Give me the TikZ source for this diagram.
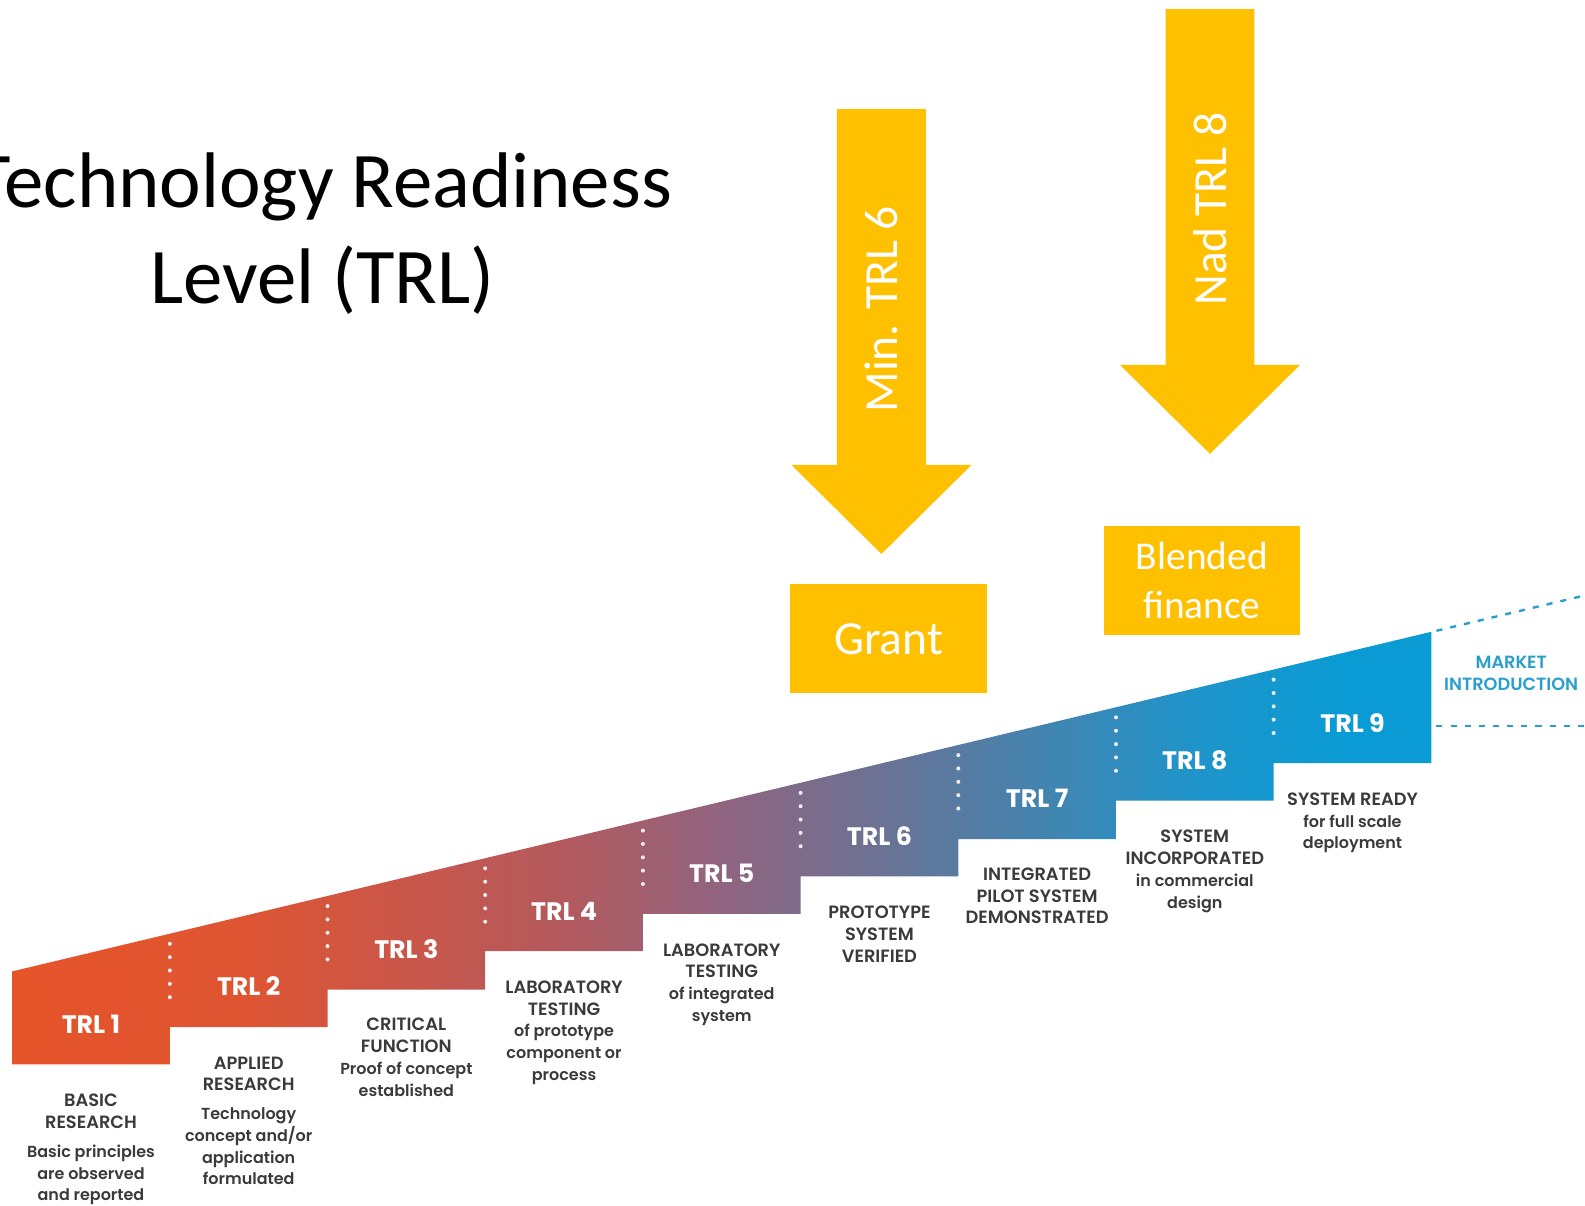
\documentclass[tikz,border=0pt]{standalone}
\usepackage{fontspec}
\setmainfont{Carlito}
\newfontfamily\stepfont{Poppins}
\newfontfamily\descfont{Poppins}[UprightFont=* SemiBold, BoldFont=* SemiBold]
\usetikzlibrary{positioning}
\definecolor{trlgold}{HTML}{FFC000}
\definecolor{trlgray}{HTML}{3A3A3A}
\definecolor{trlcyan}{HTML}{2A9FCB}
\definecolor{stepA}{HTML}{E6542A}
\definecolor{stepB}{HTML}{DF5532}
\definecolor{stepC}{HTML}{C9564A}
\definecolor{stepD}{HTML}{B35A5E}
\definecolor{stepE}{HTML}{906480}
\definecolor{stepF}{HTML}{6C7294}
\definecolor{stepG}{HTML}{4583AE}
\definecolor{stepH}{HTML}{1E94CA}
\definecolor{stepI}{HTML}{0A9BD4}
\pgfdeclarehorizontalshading{trlramp}{100bp}{color(0bp)=(stepA); color(25bp)=(stepA); color(33bp)=(stepB); color(39bp)=(stepC); color(44.5bp)=(stepD); color(50bp)=(stepE); color(55.5bp)=(stepF); color(61bp)=(stepG); color(66.7bp)=(stepH); color(72bp)=(stepI); color(100bp)=(stepI)}
\newcommand{\lc}[1]{{\fontsize{7.9}{10.75}\selectfont #1}}
\tikzstyle{titletext} = [anchor=base, inner sep=0pt, font=\fontsize{39}{47}\selectfont]
\tikzstyle{fundbox} = [rectangle, fill=trlgold, text=white, minimum width=97pt, minimum height=54pt, inner sep=0pt, align=center, font=\fontsize{23.5}{24}\selectfont]
\tikzstyle{arrowtext} = [text=white, rotate=90, inner sep=0pt, font=\fontsize{23.5}{24}\selectfont]
\tikzstyle{steplabel} = [text=white, inner sep=0pt, font=\stepfont\bfseries\fontsize{12.5}{14}\selectfont]
\tikzstyle{stepdesc} = [text=trlgray, align=center, anchor=north, inner sep=0pt, font=\descfont\fontsize{8.8}{10.75}\selectfont]
\tikzstyle{sepdots} = [white!85!gray, line width=2pt, line cap=round, dash pattern=on 0pt off 6.6pt]
\tikzstyle{marketline} = [trlcyan, line width=1.2pt, dash pattern=on 3pt off 4pt]

\begin{document}
\begin{tikzpicture}[x=0.5pt, y=-0.5pt]
\useasboundingbox (0,0) rectangle (1568,1193);

% title
\node (title1) [titletext] at (319,205) {Technology Readiness};
\node (title2) [titletext] at (319,300) {Level (TRL)};

% block arrows
\foreach \ax/\ay/\lbl/\txt in {872/108/minarrow/{Min. TRL 6}, 1197/9/nadarrow/{Nad TRL 8}} {
  \fill[trlgold] (\ax-44,\ay) -- (\ax+44,\ay) -- (\ax+44,\ay+352) -- (\ax+89,\ay+352)
    -- (\ax,\ay+440) -- (\ax-89,\ay+352) -- (\ax-44,\ay+352) -- cycle;
  \node (\lbl) [arrowtext] at (\ax,\ay+198) {\txt};
}

\node (grant)   [fundbox] at (879,632) {Grant};
\node (blended) [fundbox, font=\fontsize{19.5}{24}\selectfont] at (1189,574) {Blended\\finance};

% staircase
\shade[shading=trlramp, shading angle=0] (12,961) -- (1416,625) -- (1416,755) -- (1260,755)
  -- (1260,792) -- (1104,792) -- (1104,830) -- (948,830) -- (948,867) -- (792,867)
  -- (792,904) -- (636,904) -- (636,941) -- (480,941) -- (480,979) -- (324,979)
  -- (324,1016) -- (168,1016) -- (168,1053) -- (12,1053) -- cycle;

\foreach \i in {2,...,9} {
  \draw[sepdots] (12+156*\i-156, 971-37.33*\i+37.33) -- ++(0,56);
}
\foreach \i in {1,...,9} {
  \node (trl\i) [steplabel] at (90+156*\i-156, 1013-37.25*\i+37.25) {TRL \i};
}

% descriptions
\node (desc1) [stepdesc] at (90,1082)   {BASIC\\RESEARCH\\[3.5pt]\lc{Basic principles}\\\lc{are observed}\\\lc{and reported}};
\node (desc2) [stepdesc] at (246,1045)  {APPLIED\\RESEARCH\\[3.5pt]\lc{Technology}\\\lc{concept and/or}\\\lc{application}\\\lc{formulated}};
\node (desc3) [stepdesc] at (402,1007)  {CRITICAL\\FUNCTION\\\lc{Proof of concept}\\\lc{established}};
\node (desc4) [stepdesc] at (558,970)   {LABORATORY\\TESTING\\\lc{of prototype}\\\lc{component or}\\\lc{process}};
\node (desc5) [stepdesc] at (714,933)   {LABORATORY\\TESTING\\\lc{of integrated}\\\lc{system}};
\node (desc6) [stepdesc] at (870,896)   {PROTOTYPE\\SYSTEM\\VERIFIED};
\node (desc7) [stepdesc] at (1026,858)  {INTEGRATED\\PILOT SYSTEM\\DEMONSTRATED};
\node (desc8) [stepdesc] at (1182,821)  {SYSTEM\\INCORPORATED\\\lc{in commercial}\\\lc{design}};
\node (desc9) [stepdesc] at (1338,784)  {SYSTEM READY\\\lc{for full scale}\\\lc{deployment}};

% market introduction
\draw[marketline] (1421,624) -- (1568,589);
\draw[marketline] (1421,718) -- (1568,718);
\node (market) [align=center, text=trlcyan, inner sep=0pt, font=\descfont\fontsize{8.75}{11}\selectfont] at (1495,666) {MARKET\\INTRODUCTION};

\end{tikzpicture}
\end{document}
